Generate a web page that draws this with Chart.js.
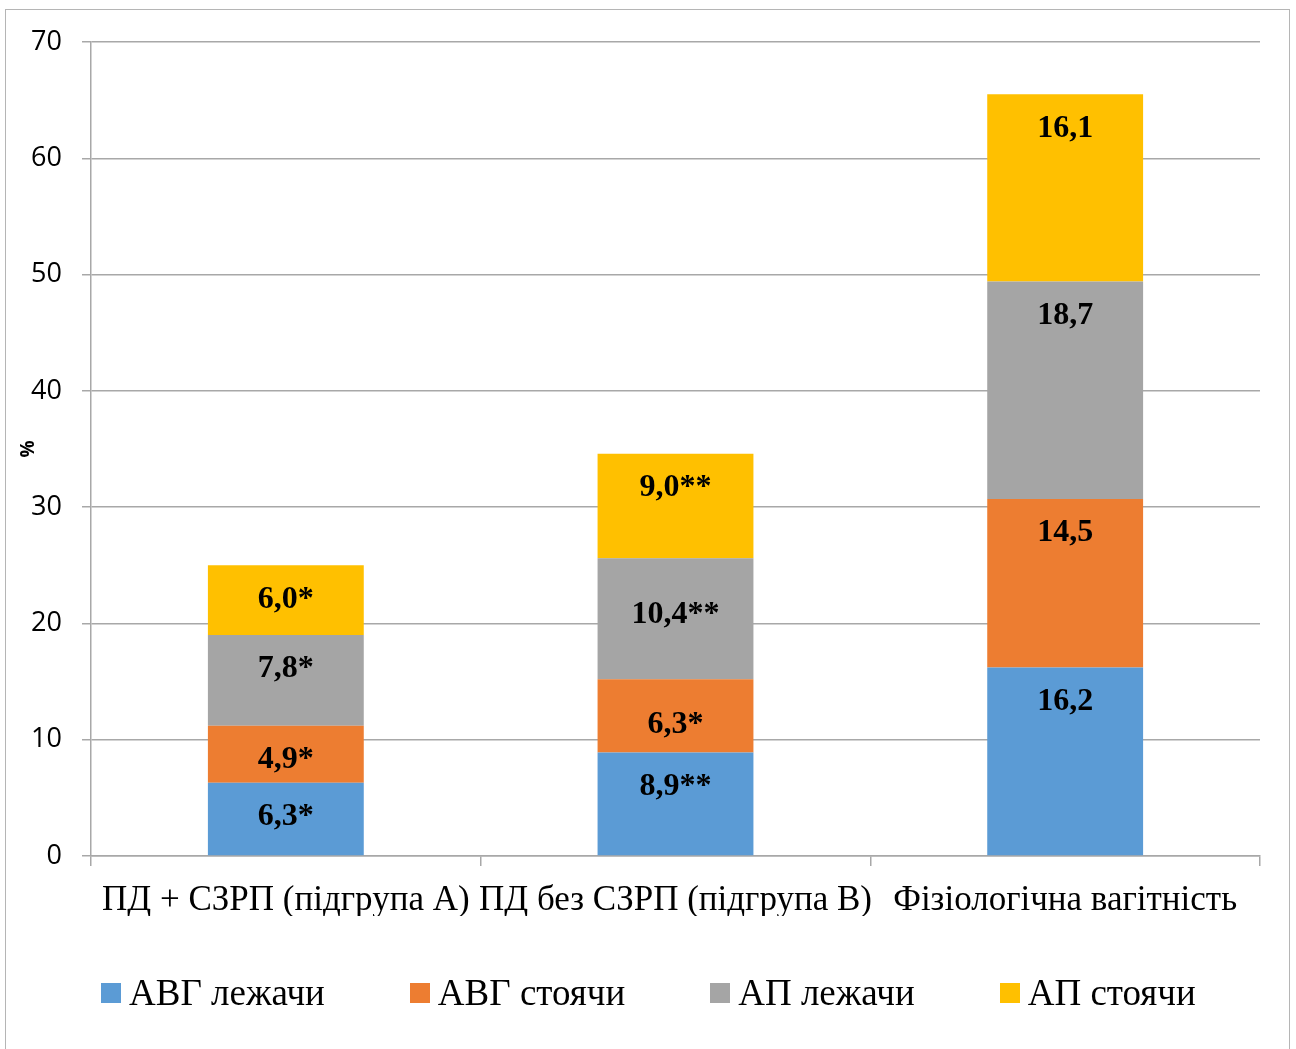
<!DOCTYPE html>
<html lang="uk">
<head>
<meta charset="utf-8">
<title>АВГ і АП лежачи та стоячи</title>
<script src="https://cdn.jsdelivr.net/npm/chart.js@4.4.1/dist/chart.umd.min.js"></script>
<style>
  html, body { margin: 0; padding: 0; background: #fff; }
  body { width: 1296px; height: 1049px; position: relative; overflow: hidden; }
  #frame { position: absolute; left: 5px; top: 9px; width: 1285px; height: 1100px;
           border: 1.5px solid #b5b5b5; box-sizing: border-box; pointer-events: none; }
  #chart { position: absolute; left: 0; top: 0; }
  #legend { position: absolute; left: 101px; top: 972px; height: 42px; display: flex; align-items: center;
            gap: 85px; font-family: 'Liberation Serif', 'Times New Roman', serif; font-size: 37px;
            line-height: 42px; color: #000; white-space: nowrap; }
  .item { display: flex; align-items: center; }
  .swatch { width: 20px; height: 20px; margin-right: 8px; }
</style>
</head>
<body>
<div id="frame"></div>
<canvas id="chart" width="1296" height="1049"></canvas>
<div id="legend"></div>
<script>
// Groups on the category axis
const categories = ['ПД + СЗРП (підгрупа А)', 'ПД без СЗРП (підгрупа В)', 'Фізіологічна вагітність'];

// Series names and colours
const seriesNames = ['АВГ лежачи', 'АВГ стоячи', 'АП лежачи', 'АП стоячи'];
const seriesColors = ['#5B9BD5', '#ED7D31', '#A5A5A5', '#FFC000'];

// Values, %
const avgLying    = [6.3, 8.9, 16.2];
const avgStanding = [4.9, 6.3, 14.5];
const apLying     = [7.8, 10.4, 18.7];
const apStanding  = [6.0, 9.0, 16.1];

// Significance marks shown after each value
const avgLyingMarks    = ['*', '**', ''];
const avgStandingMarks = ['*', '*', ''];
const apLyingMarks     = ['*', '**', ''];
const apStandingMarks  = ['*', '**', ''];

// Value axis
const yMin = 0, yMax = 70, yStep = 10;
const yTitle = '%';

const seriesValues = [avgLying, avgStanding, apLying, apStanding];
const seriesMarks = [avgLyingMarks, avgStandingMarks, apLyingMarks, apStandingMarks];

const serif = "'Liberation Serif', 'Times New Roman', serif";
const sans = "'Open Sans', 'Noto Sans', sans-serif";
const gridColor = '#a8a8a8';

// Writes "value,marks" near the top of each stacked segment
const segmentLabels = {
  id: 'segmentLabels',
  afterDatasetsDraw(chart, args, opts) {
    const ctx = chart.ctx;
    ctx.save();
    ctx.font = 'bold 32px ' + serif;
    ctx.fillStyle = '#000';
    ctx.textAlign = 'center';
    ctx.textBaseline = 'middle';
    chart.data.datasets.forEach((ds, di) => {
      const meta = chart.getDatasetMeta(di);
      meta.data.forEach((bar, i) => {
        const v = ds.data[i];
        const text = v.toFixed(1).replace('.', ',') + ds.marks[i];
        const extra = (opts.nudge && opts.nudge[di + ':' + i]) || 0;
        ctx.fillText(text, bar.x, bar.y + opts.offset + extra);
      });
    });
    ctx.restore();
  }
};

const datasets = seriesNames.map((name, k) => ({
  label: name,
  data: seriesValues[k],
  marks: seriesMarks[k],
  backgroundColor: seriesColors[k],
  borderWidth: 0,
  categoryPercentage: 1.0,
  barPercentage: 0.4
}));

new Chart(document.getElementById('chart'), {
  type: 'bar',
  data: { labels: categories, datasets },
  options: {
    responsive: false,
    animation: false,
    events: [],
    layout: { padding: { left: 0, right: 36, top: 42, bottom: 133 } },
    plugins: {
      legend: { display: false },
      tooltip: { enabled: false },
      segmentLabels: { offset: 34, nudge: { '2:1': 22, '1:1': 11 } }
    },
    scales: {
      x: {
        stacked: true,
        border: { color: gridColor, width: 1.5 },
        grid: { offset: true, drawOnChartArea: false, drawTicks: true, tickLength: 10,
                color: gridColor, lineWidth: 1.5 },
        ticks: { font: { family: serif, size: 35 }, color: '#000', padding: 14, maxRotation: 0, autoSkip: false },
        afterFit(s) { s.height = 60; s.paddingLeft = 0; s.paddingRight = 0; }
      },
      y: {
        stacked: true,
        min: yMin, max: yMax,
        border: { color: gridColor, width: 1.5 },
        grid: { color: gridColor, lineWidth: 1.5, tickLength: 9 },
        ticks: { stepSize: yStep, font: { family: sans, size: 27 }, color: '#000', padding: 20 },
        title: { display: true, text: yTitle, font: { family: sans, size: 19, weight: 'bold' },
                 color: '#000', padding: { top: 17, bottom: 0 } },
        afterFit(s) { s.width = 91; s.paddingTop = 0; s.paddingBottom = 0; }
      }
    }
  },
  plugins: [segmentLabels]
});

// Legend row built from the same series names and colours
const legend = document.getElementById('legend');
seriesNames.forEach((name, k) => {
  const item = document.createElement('div');
  item.className = 'item';
  const sw = document.createElement('span');
  sw.className = 'swatch';
  sw.style.background = seriesColors[k];
  const tx = document.createElement('span');
  tx.textContent = name;
  item.appendChild(sw);
  item.appendChild(tx);
  legend.appendChild(item);
});
</script>
</body>
</html>
